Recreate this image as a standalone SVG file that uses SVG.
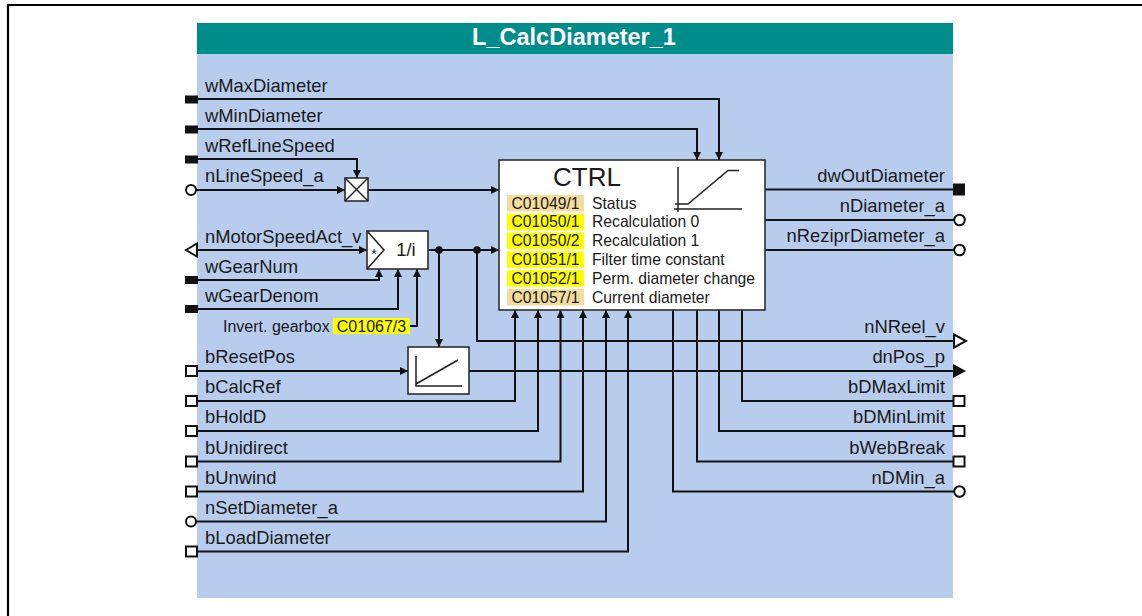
<svg xmlns="http://www.w3.org/2000/svg" width="1142" height="616" viewBox="0 0 1142 616">
<defs>
<marker id="arr" markerUnits="userSpaceOnUse" markerWidth="9" markerHeight="8" refX="8" refY="4" orient="auto"><path d="M0,0 L8,4 L0,8 z" fill="#111"/></marker>
<style>
.lbl{font-family:"Liberation Sans",Arial,sans-serif;font-size:18.4px;fill:#1a1a1a}
.r{text-anchor:end}
.tb{font-family:"Liberation Sans",Arial,sans-serif;font-size:15.7px;fill:#1a1a1a}
.ln{fill:none;stroke:#111;stroke-width:2}
.la{fill:none;stroke:#111;stroke-width:2;marker-end:url(#arr)}
.box{fill:#fff;stroke:#222;stroke-width:1.5}
.sq{fill:#111}
.osq{fill:#fff;stroke:#111;stroke-width:2}
.yel{fill:#ffff00}
.tan{fill:#f4dd9c}
</style>
</defs>
<path d="M8,616 V5 H1142" fill="none" stroke="#000" stroke-width="2.2"/>
<g id="block">
<rect x="197" y="54" width="756" height="544" fill="#b8cdee"/>
<rect x="197" y="23" width="756" height="31" fill="#008c8a"/>
<text x="574" y="45" text-anchor="middle" font-family="Liberation Sans,Arial,sans-serif" font-weight="bold" font-size="23.5" fill="#fff">L_CalcDiameter_1</text>
</g>
<g id="connectors">
<path class="la" d="M198,99 H719 V160"/>
<path class="la" d="M198,129 H697 V160"/>
<path class="la" d="M198,159 H357 V178"/>
<path class="la" d="M196,190 H345"/>
<path class="la" d="M368,190 H499"/>
<path class="la" d="M197,250 H367"/>
<path class="la" d="M198,280 H379 V269"/>
<path class="la" d="M198,309 H398 V269"/>
<path class="la" d="M410,326 H417 V269"/>
<path class="la" d="M428,250 H499"/>
<path class="la" d="M439,250 V347"/>
<path class="ln" d="M477,250 V341 H953"/>
<path class="la" d="M197,371 H408"/>
<path class="ln" d="M469,371 H953"/>
<path class="la" d="M197,401 H515 V310"/>
<path class="la" d="M197,431 H538 V310"/>
<path class="la" d="M197,461.5 H560.5 V310"/>
<path class="la" d="M197,491.5 H583 V310"/>
<path class="la" d="M196,521.5 H606 V310"/>
<path class="la" d="M197,551.5 H628 V310"/>
<path class="ln" d="M765,189.5 H953"/>
<path class="ln" d="M765,220 H954"/>
<path class="ln" d="M765,250 H954"/>
<path class="ln" d="M742,310 V401 H953"/>
<path class="ln" d="M719,310 V431 H953"/>
<path class="ln" d="M697,310 V461.5 H953"/>
<path class="ln" d="M673,310 V491.5 H954"/>
<circle cx="439" cy="250" r="3.8" fill="#111"/>
<circle cx="477" cy="250" r="3.8" fill="#111"/>
</g>
<g id="inputs">
<rect class="sq" x="185" y="95.5" width="13" height="8"/>
<text class="lbl" x="205" y="92">wMaxDiameter</text>
<rect class="sq" x="185" y="125.5" width="13" height="8"/>
<text class="lbl" x="205" y="122">wMinDiameter</text>
<rect class="sq" x="185" y="155.5" width="13" height="8"/>
<text class="lbl" x="205" y="152">wRefLineSpeed</text>
<circle class="osq" cx="191" cy="190" r="5"/>
<text class="lbl" x="205" y="182">nLineSpeed_a</text>
<path class="osq" d="M186,250 L197,243.5 V256.5 z"/>
<text class="lbl" x="205" y="243">nMotorSpeedAct_v</text>
<rect class="sq" x="185" y="276" width="13" height="8"/>
<text class="lbl" x="205" y="273">wGearNum</text>
<rect class="sq" x="185" y="305" width="13" height="8"/>
<text class="lbl" x="205" y="302">wGearDenom</text>
<text class="tb" x="223" y="332" style="font-size:16px">Invert. gearbox</text>
<rect class="yel" x="333" y="318" width="77" height="16"/>
<text class="tb" x="371.5" y="331.5" text-anchor="middle" style="font-size:16px">C01067/3</text>
<rect class="osq" x="186" y="366" width="11" height="10"/>
<text class="lbl" x="205" y="363">bResetPos</text>
<rect class="osq" x="186" y="396" width="11" height="10"/>
<text class="lbl" x="205" y="393">bCalcRef</text>
<rect class="osq" x="186" y="426" width="11" height="10"/>
<text class="lbl" x="205" y="423">bHoldD</text>
<rect class="osq" x="186" y="456.5" width="11" height="10"/>
<text class="lbl" x="205" y="454">bUnidirect</text>
<rect class="osq" x="186" y="486.5" width="11" height="10"/>
<text class="lbl" x="205" y="484">bUnwind</text>
<circle class="osq" cx="191" cy="521.5" r="5"/>
<text class="lbl" x="205" y="514">nSetDiameter_a</text>
<rect class="osq" x="186" y="546.5" width="11" height="10"/>
<text class="lbl" x="205" y="544">bLoadDiameter</text>
</g>
<g id="outputs">
<rect class="sq" x="953" y="183.5" width="12" height="12"/>
<text class="lbl r" x="945" y="182">dwOutDiameter</text>
<circle class="osq" cx="959.5" cy="220" r="5.3"/>
<text class="lbl r" x="945" y="212">nDiameter_a</text>
<circle class="osq" cx="959.5" cy="250" r="5.3"/>
<text class="lbl r" x="945" y="242">nReziprDiameter_a</text>
<path class="osq" d="M954,334.5 L966,341 L954,347.5 z"/>
<text class="lbl r" x="945" y="333">nNReel_v</text>
<path class="sq" d="M953,364 L966,371 L953,378 z"/>
<text class="lbl r" x="945" y="363">dnPos_p</text>
<rect class="osq" x="953.5" y="396" width="11" height="10"/>
<text class="lbl r" x="945" y="393">bDMaxLimit</text>
<rect class="osq" x="953.5" y="426" width="11" height="10"/>
<text class="lbl r" x="945" y="423">bDMinLimit</text>
<rect class="osq" x="953.5" y="456.5" width="11" height="10"/>
<text class="lbl r" x="945" y="454">bWebBreak</text>
<circle class="osq" cx="959.5" cy="491.5" r="5.3"/>
<text class="lbl r" x="945" y="484">nDMin_a</text>
</g>
<g id="mult">
<rect class="box" x="345" y="178" width="23" height="23"/>
<path d="M345,178 L368,201 M368,178 L345,201" stroke="#222" stroke-width="1.5"/>
</g>
<g id="gear">
<rect class="box" x="367" y="231" width="61" height="38"/>
<path d="M367,231 L384,250 L367,269" fill="none" stroke="#222" stroke-width="1.5"/>
<text x="374" y="259" text-anchor="middle" font-family="Liberation Sans,Arial,sans-serif" font-size="14" fill="#1a1a1a">*</text>
<text class="lbl" x="406" y="256" text-anchor="middle">1/i</text>
</g>
<g id="ramp">
<rect class="box" x="408" y="347" width="61" height="47"/>
<path d="M416,356 V386 H462 M416,384 L458,360" fill="none" stroke="#222" stroke-width="1.5"/>
</g>
<g id="ctrl">
<rect class="box" x="499" y="160" width="266" height="150"/>
<text x="553" y="185.5" font-family="Liberation Sans,Arial,sans-serif" font-size="26" fill="#1a1a1a">CTRL</text>
<path d="M678,167 V212 M674,209 H742 M675,204 H688 L728,170.5 H739" fill="none" stroke="#222" stroke-width="1.5"/>
<rect class="tan" x="507" y="195" width="77" height="16.5"/>
<rect class="yel" x="507" y="213.8" width="77" height="16.5"/>
<rect class="yel" x="507" y="232.6" width="77" height="16.5"/>
<rect class="yel" x="507" y="251.4" width="77" height="16.5"/>
<rect class="yel" x="507" y="270.2" width="77" height="16.5"/>
<rect class="tan" x="507" y="289" width="77" height="16.5"/>
<text class="tb" x="545.5" y="208.5" text-anchor="middle">C01049/1</text>
<text class="tb" x="545.5" y="227.3" text-anchor="middle">C01050/1</text>
<text class="tb" x="545.5" y="246.1" text-anchor="middle">C01050/2</text>
<text class="tb" x="545.5" y="264.9" text-anchor="middle">C01051/1</text>
<text class="tb" x="545.5" y="283.7" text-anchor="middle">C01052/1</text>
<text class="tb" x="545.5" y="302.5" text-anchor="middle">C01057/1</text>
<text class="tb" x="592" y="208.5">Status</text>
<text class="tb" x="592" y="227.3">Recalculation 0</text>
<text class="tb" x="592" y="246.1">Recalculation 1</text>
<text class="tb" x="592" y="264.9">Filter time constant</text>
<text class="tb" x="592" y="283.7">Perm. diameter change</text>
<text class="tb" x="592" y="302.5">Current diameter</text>
</g>
</svg>
